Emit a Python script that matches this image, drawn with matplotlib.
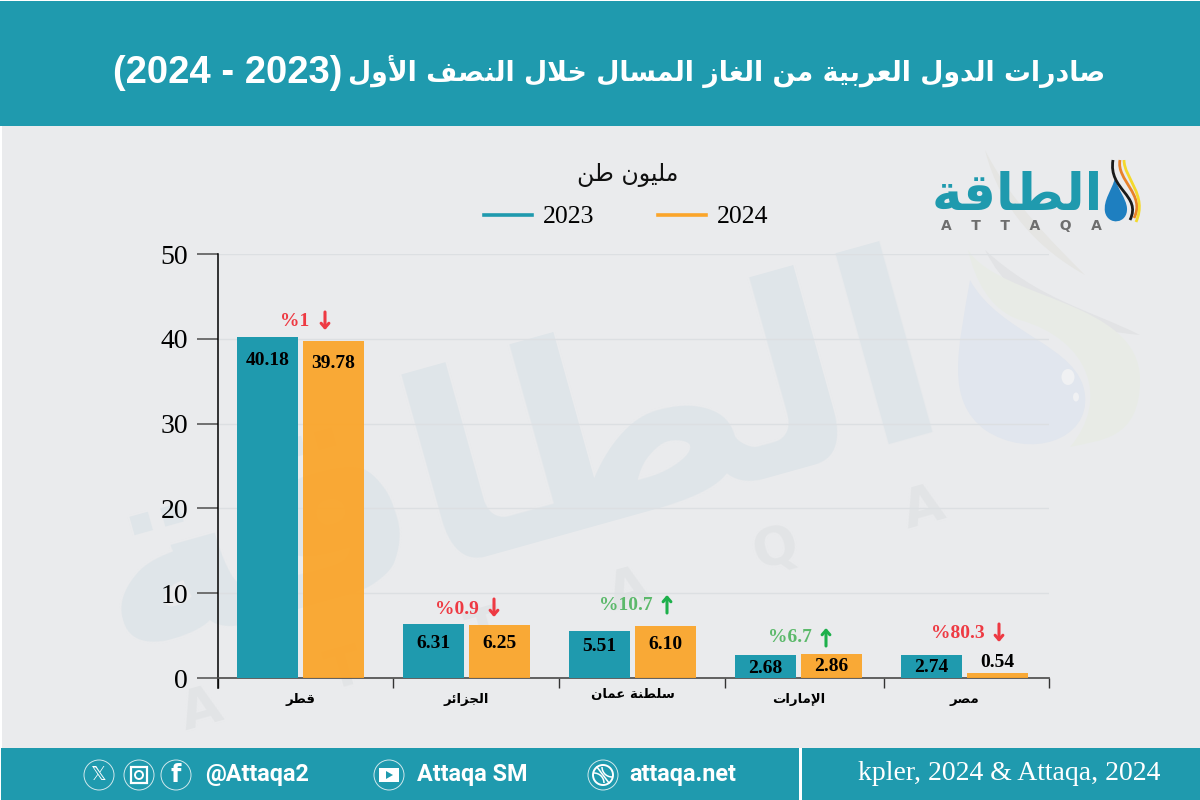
import numpy as np
import matplotlib
matplotlib.use("Agg")
import matplotlib.pyplot as plt
from matplotlib.lines import Line2D
from matplotlib.patches import Rectangle, Circle, Ellipse, PathPatch, Arc
from matplotlib.path import Path

TEAL = "#1F9AAE"
ORANGE = "#FBA52A"
BG = "#EAEBED"
WM = "#DFE5E9"
RED = "#EE3A43"
GREEN_TXT = "#5CB96B"
GREEN_ARR = "#1DB04B"
SERIF = "Liberation Serif"

countries = ["قطر", "الجزائر", "سلطنة عمان", "الإمارات", "مصر"]
exports_2023 = [40.18, 6.31, 5.51, 2.68, 2.74]
exports_2024 = [39.78, 6.25, 6.10, 2.86, 0.54]
changes = ["%1", "%0.9", "%10.7", "%6.7", "%80.3"]
directions = [-1, -1, 1, 1, -1]
years = ["2023", "2024"]
yticks = [0, 10, 20, 30, 40, 50]

title_ar = "صادرات الدول العربية من الغاز المسال خلال النصف الأول"
title_years = "(2024 - 2023)"
unit = "مليون طن"
source = "kpler, 2024 & Attaqa, 2024"
logo_ar = "الطاقة"

# matplotlib has no Arabic shaping, so map letters to presentation forms by hand
# letter -> first code point, number of forms (iso, fin, ini, med)
FORMS = {"ء": (0xFE80, 1), "أ": (0xFE83, 2), "إ": (0xFE87, 2), "ئ": (0xFE89, 4), "ا": (0xFE8D, 2),
         "ب": (0xFE8F, 4), "ة": (0xFE93, 2), "ت": (0xFE95, 4), "ج": (0xFE9D, 4), "خ": (0xFEA5, 4),
         "د": (0xFEA9, 2), "ر": (0xFEAD, 2), "ز": (0xFEAF, 2), "س": (0xFEB1, 4), "ص": (0xFEB9, 4),
         "ط": (0xFEC1, 4), "ع": (0xFEC9, 4), "غ": (0xFECD, 4), "ف": (0xFED1, 4), "ق": (0xFED5, 4),
         "ل": (0xFEDD, 4), "م": (0xFEE1, 4), "ن": (0xFEE5, 4), "ه": (0xFEE9, 4), "و": (0xFEED, 2),
         "ي": (0xFEF1, 4)}
LAM_ALEF = {"ا": 0xFEFB, "أ": 0xFEF7, "إ": 0xFEF9}


def ar(s):
    out = []
    i = 0
    prev_joins = False
    while i < len(s):
        c = s[i]
        if c not in FORMS:
            out.append(c)
            prev_joins = False
            i += 1
            continue
        nxt = s[i + 1] if i + 1 < len(s) else ""
        if c == "ل" and nxt in LAM_ALEF:
            out.append(chr(LAM_ALEF[nxt] + (1 if prev_joins else 0)))
            prev_joins = False
            i += 2
            continue
        start, n = FORMS[c]
        next_ok = nxt in FORMS
        if n == 4:
            idx = {(False, False): 0, (True, False): 1, (False, True): 2, (True, True): 3}[(prev_joins, next_ok)]
            prev_joins = next_ok
        else:
            idx = 1 if (prev_joins and n == 2) else 0
            prev_joins = False
        out.append(chr(start + idx))
        i += 1
    return "".join(reversed(out))


def blob(layer, pts, color):
    # closed bezier shape in pixel coordinates
    layer.add_patch(PathPatch(Path(pts, [Path.MOVETO] + [Path.CURVE4] * (len(pts) - 1)), fc=color, ec="none"))


fig = plt.figure(figsize=(12, 8), dpi=100, facecolor="white")

# pixel-space layers behind and in front of the chart
bg = fig.add_axes([0, 0, 1, 1], zorder=0)
bg.set_xlim(0, 1200)
bg.set_ylim(800, 0)
bg.axis("off")
top = fig.add_axes([0, 0, 1, 1], zorder=2)
top.set_xlim(0, 1200)
top.set_ylim(800, 0)
top.axis("off")
top.patch.set_alpha(0)

bg.add_patch(Rectangle((2, 2), 1198, 796, color=BG, lw=0))
bg.add_patch(Rectangle((0, 1), 1200, 125, color=TEAL, lw=0))
bg.add_patch(Rectangle((1, 748), 1199, 52, color=TEAL, lw=0))
bg.add_patch(Rectangle((799, 748), 3, 52, color="white", lw=0))

# watermark
bg.text(515, 468, ar(logo_ar), fontsize=188, family="DejaVu Sans", weight="bold", color=WM,
        rotation=15.6, rotation_mode="anchor", ha="center", va="center")
bg.text(563, 610, "A      T      T      A      Q      A", fontsize=38, family="DejaVu Sans",
        weight="bold", color="#E2E4E6", rotation=15.6, rotation_mode="anchor", ha="center", va="center")
blob(bg, [(985, 150), (1010, 200), (1050, 240), (1085, 275), (1040, 250), (1000, 210), (985, 150)], "#E5E5E3")
blob(bg, [(985, 250), (1040, 300), (1090, 310), (1140, 335), (1090, 330), (1020, 320), (985, 250)], "#E2E3E5")
blob(bg, [(968, 250), (1000, 300), (1140, 300), (1140, 380), (1140, 440), (1100, 440), (1070, 447),
          (1110, 400), (1090, 340), (1020, 320), (990, 310), (975, 280), (968, 250)], "#E8EBE6")
blob(bg, [(970, 280), (958, 350), (945, 400), (985, 430), (1030, 460), (1090, 440), (1085, 395),
          (1080, 345), (1000, 335), (970, 280)], "#E1E6EE")
bg.add_patch(Ellipse((1068, 377), 13, 16, fc="#F0F1F3", ec="none"))
bg.add_patch(Ellipse((1076, 397), 6, 9, fc="#F0F1F3", ec="none"))

# chart
ax = fig.add_axes([218 / 1200, (800 - 678) / 800, (1049 - 218) / 1200, 424 / 800], zorder=1)
ax.patch.set_alpha(0)
x = np.arange(len(countries))
bars_a = ax.bar(x - 0.199, exports_2023, 0.364, color=TEAL, zorder=3)
bars_b = ax.bar(x + 0.199, exports_2024, 0.364, color=ORANGE, alpha=0.94, zorder=3)
ax.set_xlim(-0.497, 4.509)
ax.set_ylim(0, 50)
ax.set_yticks(yticks)
ax.set_yticklabels([str(v) for v in yticks], family=SERIF, fontsize=20)
ax.tick_params(axis="y", length=15, width=1.3, color="#666666", pad=6.5)
ax.yaxis.get_major_ticks()[-1].tick1line.set_color("black")
ax.grid(axis="y", color="#DCDFE2", lw=1, zorder=0)
ax.set_xticks(x)
ax.set_xticklabels([ar(c) for c in countries], family="DejaVu Sans", weight="bold", fontsize=9.5)
ax.tick_params(axis="x", which="major", length=0, pad=11)
ax.set_xticks([-0.497, 0.557, 1.557, 2.557, 3.515, 4.509], minor=True)
ax.tick_params(axis="x", which="minor", length=7.5, width=1, color="#333333")
ax.get_xticklabels()[2].set_y(0.013)
for s in ["top", "right"]:
    ax.spines[s].set_visible(False)
ax.spines["left"].set_linewidth(1.1)
ax.spines["bottom"].set_linewidth(1.3)
ax.spines["bottom"].set_color("#555555")

# value labels, offset from bar tops in px
dy_a = [-23, -19, -15, -13, -13]
dy_b = [-23, -18, -18, -13, 11]
for bars, dys in [(bars_a, dy_a), (bars_b, dy_b)]:
    for b, dy in zip(bars, dys):
        ax.annotate(f"{b.get_height():.2f}", (b.get_x() + b.get_width() / 2, b.get_height()),
                    xytext=(0, dy * 0.72), textcoords="offset points", ha="center", va="center",
                    family=SERIF, weight="bold", fontsize=14, zorder=5)

# change labels
chg_x = [295, 457, 626, 790, 958]
chg_y = [321, 608, 604, 637, 633]
arr_x = [325, 494, 667, 826, 999]
for t, d, cx, cy, ax_ in zip(changes, directions, chg_x, chg_y, arr_x):
    top.text(cx, cy + 1, t, family=SERIF, weight="bold", fontsize=14, color=RED if d < 0 else GREEN_TXT,
             ha="center", va="center")
    start, end = (cy - 9, cy + 9) if d < 0 else (cy + 9, cy - 9)
    top.annotate("", xy=(ax_, end), xytext=(ax_, start),
                 arrowprops=dict(arrowstyle="->,head_width=0.28,head_length=0.32", lw=2.2,
                                 color=RED if d < 0 else GREEN_ARR, shrinkA=0, shrinkB=0))

# header and legend
top.text(1105, 72, ar(title_ar), family="DejaVu Sans", weight="bold", fontsize=19.3, color="white",
         ha="right", va="center")
top.text(342, 73, title_years, family="Liberation Sans", weight="bold", fontsize=27.5, color="white",
         ha="right", va="center")
top.text(628, 175, ar(unit), family="DejaVu Sans", fontsize=17, color="#111111", ha="center", va="center")
handles = [Line2D([], [], color=TEAL, lw=2.6), Line2D([], [], color=ORANGE, lw=2.6)]
fig.legend(handles=handles, labels=years, loc="center", bbox_to_anchor=(626 / 1200, 583 / 800),
           ncols=2, frameon=False, prop={"family": SERIF, "size": 18.5}, handlelength=1.85,
           handletextpad=0.42, columnspacing=2.5)

# logo
top.text(1017, 196, ar(logo_ar), family="DejaVu Sans", weight="bold", fontsize=37, color=TEAL,
         ha="center", va="center")
top.text(1021, 226, "A    T    T    A    Q    A", family="DejaVu Sans", weight="bold", fontsize=10, color="#6E6E6E",
         ha="center", va="center")
blob(top, [(1115, 178), (1112, 190), (1103, 200), (1105, 212), (1108, 226), (1128, 224), (1127, 208),
           (1126, 198), (1118, 190), (1115, 178)], "#1E7FC0")
for pts, col in [([(1113, 160), (1108, 190), (1142, 195), (1130, 220)], "#1A1A1A"),
                 ([(1120, 160), (1116, 180), (1146, 195), (1134, 218)], "#E8812A"),
                 ([(1124, 160), (1124, 178), (1148, 195), (1136, 222)], "#F4D92C")]:
    top.add_patch(PathPatch(Path(pts, [Path.MOVETO, Path.CURVE4, Path.CURVE4, Path.CURVE4]),
                            fc="none", ec=col, lw=2))

# footer
for cx in [99, 139, 176, 389, 603]:
    top.add_patch(Circle((cx, 775), 15, fc="none", ec="#CFE8EC", lw=0.7))
top.text(99, 775, "𝕏", color="white", fontsize=14, family="DejaVu Sans", ha="center", va="center")
top.add_patch(Rectangle((131, 767), 16, 16, fc="none", ec="white", lw=1.6))
top.add_patch(Circle((139, 775), 4, fc="none", ec="white", lw=1.4))
top.text(176, 775, "f", color="white", fontsize=17, family="DejaVu Sans", weight="bold", ha="center", va="center")
top.add_patch(Rectangle((379, 768), 20, 14, fc="white", ec="none"))
top.add_patch(PathPatch(Path([(386, 771), (386, 779), (393, 775), (386, 771)]), fc=TEAL, ec="none"))
top.add_patch(Circle((603, 775), 10, fc="none", ec="white", lw=1.4))
top.add_patch(Arc((594, 783), 20, 20, theta1=270, theta2=360, ec="white", lw=1.1))
top.add_patch(Arc((612, 767), 20, 20, theta1=90, theta2=180, ec="white", lw=1.1))
top.plot([597, 609], [767, 783], color="white", lw=1.1)
for txt, tx in [("@Attaqa2", 205), ("Attaqa SM", 417), ("attaqa.net", 629)]:
    top.text(tx, 775, txt, color="white", fontsize=16.8, family="Roboto", weight="bold", ha="left", va="center")
top.text(1009, 773, source, color="white", fontsize=20, family=SERIF, ha="center", va="center")
top.set_xlim(0, 1200)
top.set_ylim(800, 0)

# y axis runs a little below the zero line
ax.plot([0, 0], [0, -0.024], transform=ax.transAxes, clip_on=False, color="black", lw=1.1)

fig.savefig("out.png", dpi=100, facecolor=fig.get_facecolor())
